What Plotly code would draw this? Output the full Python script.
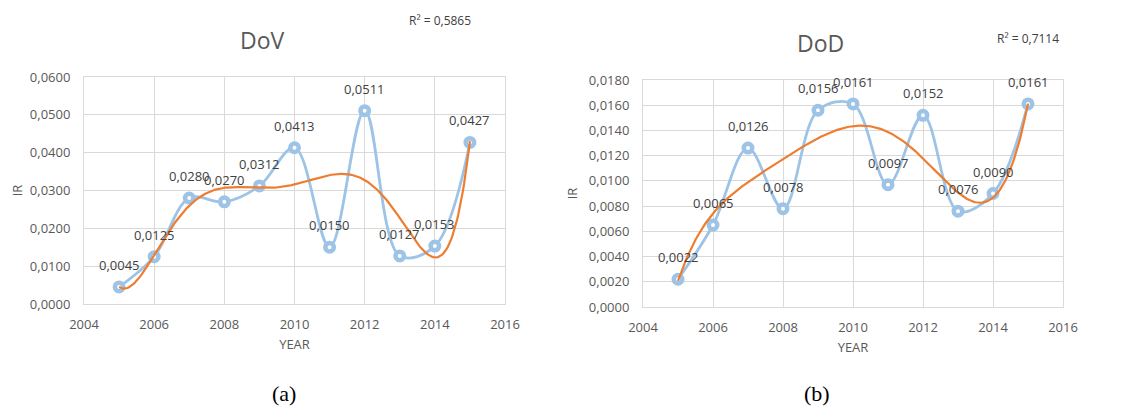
import numpy as np
import plotly.graph_objects as go

years = [2005, 2006, 2007, 2008, 2009, 2010, 2011, 2012, 2013, 2014, 2015]
dov = [0.0045, 0.0125, 0.0280, 0.0270, 0.0312, 0.0413, 0.0150, 0.0511, 0.0127, 0.0153, 0.0427]
dod = [0.0022, 0.0065, 0.0126, 0.0078, 0.0156, 0.0161, 0.0097, 0.0152, 0.0076, 0.0090, 0.0161]
titles = ["DoV", "DoD"]
r2_labels = ["R² = 0,5865", "R² = 0,7114"]
sub_labels = ["(a)", "(b)"]
x_ticks = [2004, 2006, 2008, 2010, 2012, 2014, 2016]
y_ticks_a = [0.00, 0.01, 0.02, 0.03, 0.04, 0.05, 0.06]
y_ticks_b = [0.000, 0.002, 0.004, 0.006, 0.008, 0.010, 0.012, 0.014, 0.016, 0.018]
poly_order = 6  # Excel polynomial trendline order

PAGE_W, PAGE_H = 1124, 417
OFF = 8  # default body margin of the html page
W, H = PAGE_W - 2 * OFF, PAGE_H - 2 * OFF
BLUE = "#9DC3E6"
ORANGE = "#ED7D31"
GRID = "#D9D9D9"
TXT = "#595959"
LBL = "#404040"
FONT = "Open Sans"

# plot-area pixel boxes in page pixels (left, right, top, bottom)
boxes = [(84, 505, 77, 304), (643, 1063, 80, 307)]


def px_x(p):
    return (p - OFF) / W


def px_y(p):
    return 1 - (p - OFF) / H


fig = go.Figure()
series = [dov, dod]
yticks = [y_ticks_a, y_ticks_b]
for i, (vals, box) in enumerate(zip(series, boxes)):
    xa = "x" if i == 0 else "x2"
    ya = "y" if i == 0 else "y2"
    x = np.array(years, dtype=float)
    y = np.array(vals)
    coef = np.polyfit(x - 2010.0, y, poly_order)
    xs = np.linspace(x.min(), x.max(), 300)
    ys = np.polyval(coef, xs - 2010.0)

    fig.add_trace(go.Scatter(
        x=years, y=vals, mode="lines+markers", xaxis=xa, yaxis=ya,
        line=dict(color=BLUE, width=2.8, shape="spline", smoothing=1.0),
        marker=dict(symbol="circle", size=8.5, color="white",
                    line=dict(color=BLUE, width=4.5)),
        showlegend=False, hoverinfo="skip"))
    fig.add_trace(go.Scatter(
        x=xs, y=ys, mode="lines", xaxis=xa, yaxis=ya,
        line=dict(color=ORANGE, width=2.2),
        showlegend=False, hoverinfo="skip"))
    for xv, yv in zip(years, vals):
        fig.add_annotation(
            x=xv, y=yv, xref=xa, yref=ya, text=f"{yv:.4f}".replace(".", ","),
            showarrow=False, yshift=22, xanchor="center", yanchor="middle",
            font=dict(family=FONT, size=13, color=LBL))

    l, r, t, b = box
    axis_common = dict(
        showgrid=True, gridcolor=GRID, gridwidth=1,
        showline=True, linecolor=GRID, linewidth=1, mirror=True,
        zeroline=False, ticks="", automargin=False,
        tickfont=dict(family=FONT, size=13, color=TXT))
    xkey = "xaxis" if i == 0 else "xaxis2"
    ykey = "yaxis" if i == 0 else "yaxis2"
    fig.update_layout(**{
        xkey: dict(axis_common, domain=[px_x(l), px_x(r)], anchor=ya,
                   range=[x_ticks[0], x_ticks[-1]], tickvals=x_ticks,
                   tickformat="d", ticklabelstandoff=8,
                   title=dict(text="YEAR", standoff=8,
                              font=dict(family=FONT, size=13, color=TXT))),
        ykey: dict(axis_common, domain=[px_y(b), px_y(t)], anchor=xa,
                   range=[yticks[i][0], yticks[i][-1]], tickvals=yticks[i],
                   tickformat=".4f", ticklabelstandoff=10,
                   title=dict(text="IR", standoff=8,
                              font=dict(family=FONT, size=13, color=TXT))),
    })

# titles, R² and subfigure labels (page pixel centres)
title_pos = [(262, 40), (820, 43)]
r2_pos = [(440, 21), (1028, 39)]
sub_x = [284, 817]
for i in range(2):
    fig.add_annotation(x=px_x(title_pos[i][0]), y=px_y(title_pos[i][1]),
                       xref="paper", yref="paper", text=titles[i], showarrow=False,
                       xanchor="center", yanchor="middle",
                       font=dict(family=FONT, size=23, color=TXT))
    fig.add_annotation(x=px_x(r2_pos[i][0]), y=px_y(r2_pos[i][1]),
                       xref="paper", yref="paper", text=r2_labels[i], showarrow=False,
                       xanchor="center", yanchor="middle",
                       font=dict(family=FONT, size=12, color=LBL))
    fig.add_annotation(x=px_x(sub_x[i]), y=0, yshift=1,
                       xref="paper", yref="paper", text=sub_labels[i], showarrow=False,
                       xanchor="center", yanchor="bottom",
                       font=dict(family="Liberation Serif", size=22, color="black"))

fig.update_layout(
    width=W, height=H, margin=dict(l=0, r=0, t=0, b=0),
    paper_bgcolor="white", plot_bgcolor="white",
    separators=", ", showlegend=False)

fig.write_html("out.html")
